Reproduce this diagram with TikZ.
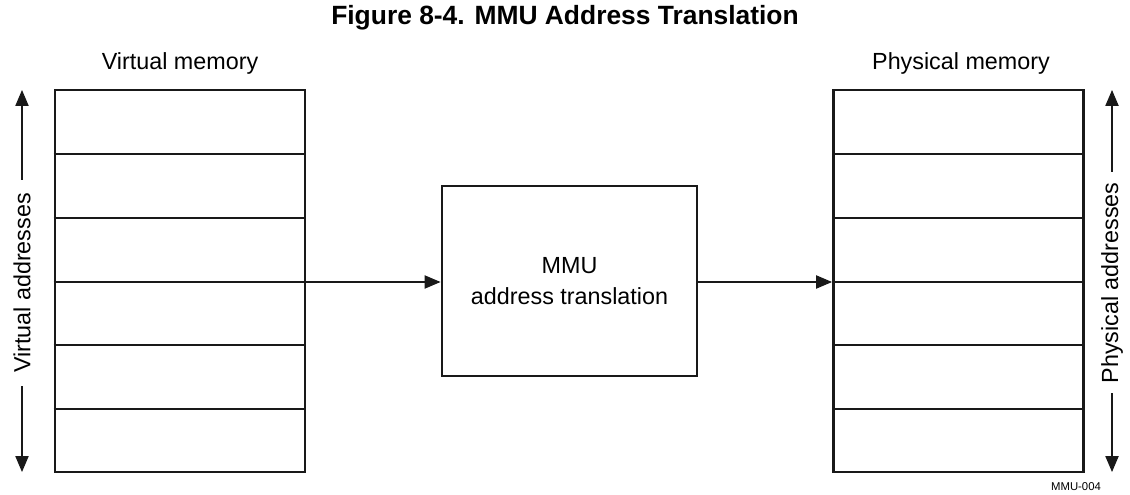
\documentclass[tikz,border=0pt]{standalone}
\usepackage{fontspec}
\setmainfont{Liberation Sans}
\usetikzlibrary{arrows.meta}
\begin{document}
\begin{tikzpicture}[x=0.75pt,y=-0.75pt,
  membox/.style={draw=black!90,line width=2.2pt,minimum width=250*0.75pt,minimum height=382*0.75pt,inner sep=0pt},
  mmubox/.style={draw=black!90,line width=2.2pt,minimum width=255*0.75pt,minimum height=190*0.75pt,inner sep=0pt,align=center,font=\fontsize{17.5}{23.5}\selectfont},
  rowline/.style={draw=black!90,line width=1pt},
  conn/.style={draw=black!90,line width=0.8pt,-{Triangle[length=12pt,width=10pt]}},
  lbl/.style={font=\fontsize{17.5}{21}\selectfont},
  ttl/.style={font=\bfseries\fontsize{19.8}{24}\selectfont}
]
\useasboundingbox (0,0) rectangle (1130,495);
\node[ttl] (title) at (565,18) {Figure 8-4. MMU Address Translation};
\node[membox] (vm) at (180,281) {};
\node[membox] (pm) at (958.5,281) {};
\node[mmubox] (mmu) at (569.5,281) {MMU\\address translation};
\node[lbl] (vml) at (180,63) {Virtual memory};
\node[lbl] (pml) at (961,63) {Physical memory};
\foreach \yy in {154,218,282,345,409}{
  \draw[rowline] (vm.west |- 0,\yy) -- (vm.east |- 0,\yy);
  \draw[rowline] (pm.west |- 0,\yy) -- (pm.east |- 0,\yy);
}
\draw[conn] (vm.east |- 0,282) -- (mmu.west |- 0,282);
\draw[conn] (mmu.east |- 0,282) -- (pm.west |- 0,282);
% vertical address arrows
\node[lbl,rotate=90] (va) at (22,283) {Virtual addresses};
\node[lbl,rotate=90] (pa) at (1112,283) {Physical addresses};
\coordinate (vatop) at (22,90);
\coordinate (vabot) at (22,472);
\coordinate (patop) at (1112,90);
\coordinate (pabot) at (1112,472);
\coordinate (vas) at (22,180);
\coordinate (vae) at (22,386);
\coordinate (pas) at (1112,172);
\coordinate (pae) at (1112,393);
\draw[conn] (vas) -- (vatop);
\draw[conn] (vae) -- (vabot);
\draw[conn] (pas) -- (patop);
\draw[conn] (pae) -- (pabot);
\node[font=\fontsize{8.5}{10}\selectfont] (code) at (1076,487) {MMU-004};
\end{tikzpicture}
\end{document}
